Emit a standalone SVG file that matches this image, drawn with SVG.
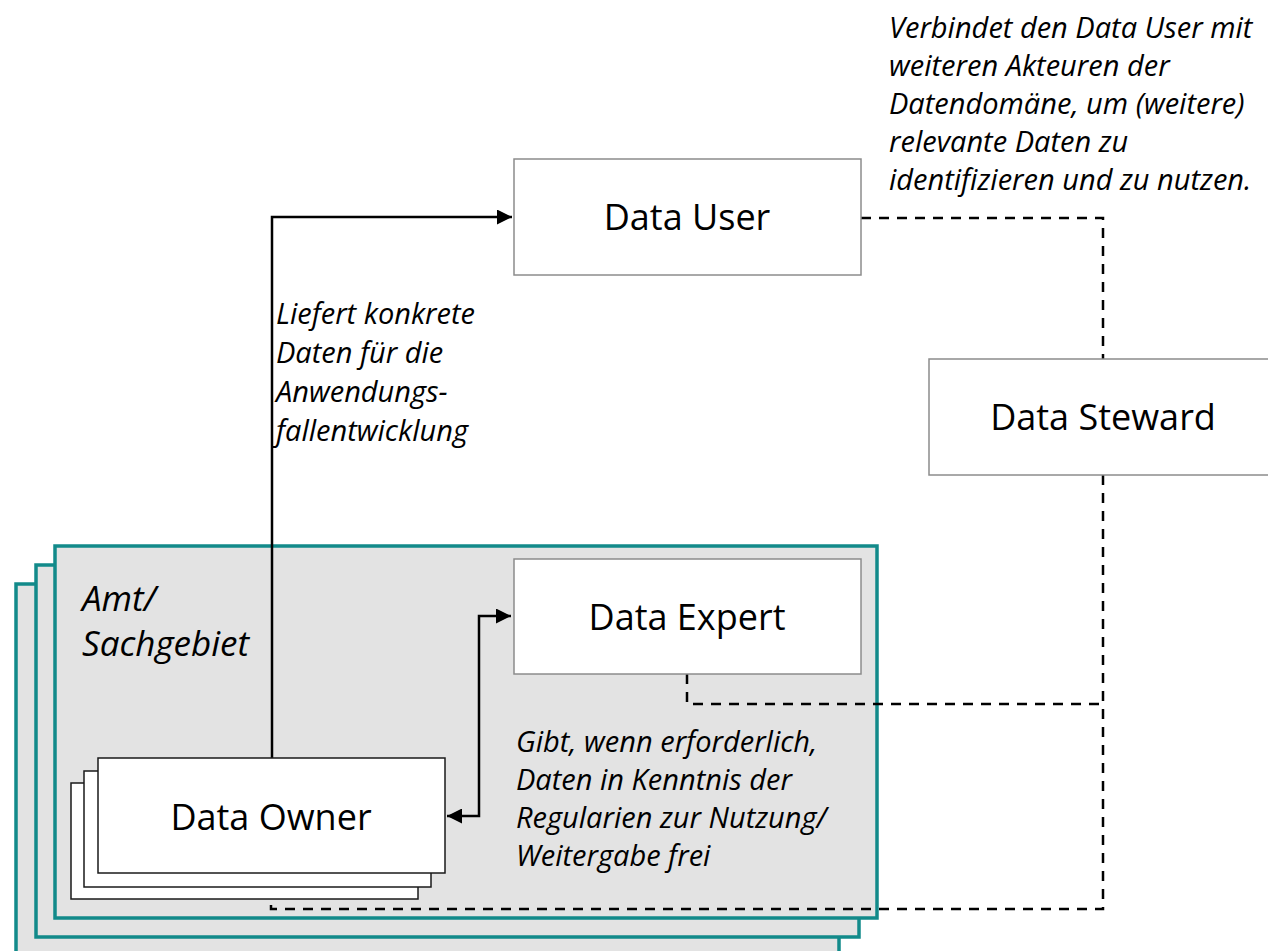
<svg xmlns="http://www.w3.org/2000/svg" width="1268" height="951" viewBox="0 0 1268 951">
<defs>
<style>
.frame{fill:#e3e3e3;stroke:#128a8a;stroke-width:3.5}
.box{fill:#fff;stroke:#8c8c8c;stroke-width:1.5}
.own{fill:#fff;stroke:#1a1a1a;stroke-width:1.5}
.title{font-family:"Open Sans",sans-serif;font-size:36px;fill:#000;text-anchor:middle}
.lbl{font-family:"Open Sans",sans-serif;font-style:italic;font-size:29px;fill:#000}
.big{font-size:35px}
.solid{fill:none;stroke:#000;stroke-width:2.5}
.dash{fill:none;stroke:#000;stroke-width:2.5;stroke-dasharray:10 8}
</style>
<marker id="ah" viewBox="0 0 10 10" refX="10" refY="5" markerWidth="6" markerHeight="6" orient="auto-start-reverse" markerUnits="strokeWidth">
<path d="M0,0 L10,5 L0,10 z" fill="#000"/>
</marker>
</defs>
<rect width="1268" height="951" fill="#fff"/>
<g id="amt-frames">
<rect class="frame" x="16" y="584" width="823" height="400"/>
<rect class="frame" x="36" y="565" width="823" height="372"/>
<rect class="frame" x="55" y="546" width="822" height="372"/>
<text class="lbl big" x="82" y="611">Amt/</text>
<text class="lbl big" x="82" y="656">Sachgebiet</text>
</g>
<g id="connectors">
<path class="solid" d="M272,758 V217 H512" marker-end="url(#ah)"/>
<path class="solid" d="M447,816 H479 V616 H511" marker-start="url(#ah)" marker-end="url(#ah)"/>
<path class="dash" d="M861,218 H1103 V359"/>
<path class="dash" d="M1103,475 V909 H271 V873"/>
<path class="dash" d="M687,674 V704 H1103"/>
</g>
<g id="data-user">
<rect class="box" x="514" y="159" width="347" height="116"/>
<text class="title" x="687" y="230">Data User</text>
</g>
<g id="data-steward">
<rect class="box" x="929" y="359" width="347" height="116"/>
<text class="title" x="1103" y="430">Data Steward</text>
</g>
<g id="data-expert">
<rect class="box" x="514" y="559" width="347" height="115"/>
<text class="title" x="687" y="630">Data Expert</text>
</g>
<g id="data-owner">
<rect class="own" x="71" y="783" width="347" height="116"/>
<rect class="own" x="84" y="771" width="347" height="116"/>
<rect class="own" x="98" y="758" width="347" height="115"/>
<text class="title" x="271" y="830">Data Owner</text>
</g>
<g id="labels">
<text class="lbl" x="276" y="324">Liefert konkrete</text>
<text class="lbl" x="276" y="363">Daten für die</text>
<text class="lbl" x="276" y="402">Anwendungs-</text>
<text class="lbl" x="276" y="441">fallentwicklung</text>
<text class="lbl" x="516" y="752">Gibt, wenn erforderlich,</text>
<text class="lbl" x="516" y="790">Daten in Kenntnis der</text>
<text class="lbl" x="516" y="828">Regularien zur Nutzung/</text>
<text class="lbl" x="516" y="866">Weitergabe frei</text>
<text class="lbl" x="889" y="38">Verbindet den Data User mit</text>
<text class="lbl" x="889" y="76">weiteren Akteuren der</text>
<text class="lbl" x="889" y="114">Datendomäne, um (weitere)</text>
<text class="lbl" x="889" y="152">relevante Daten zu</text>
<text class="lbl" x="889" y="190">identifizieren und zu nutzen.</text>
</g>
</svg>
